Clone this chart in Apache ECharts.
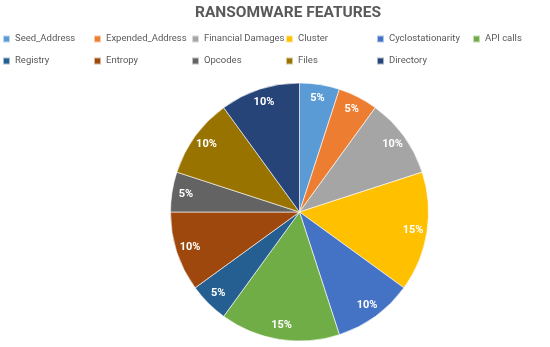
<!DOCTYPE html>
<html><head><meta charset="utf-8">
<script src="https://cdn.jsdelivr.net/npm/echarts@6/dist/echarts.min.js"></script>
<style>html,body{margin:0;padding:0;background:#fff}#c{width:550px;height:347px}</style>
</head><body><div id="c"></div>
<script>
const categories = ['Seed_Address','Expended_Address','Financial Damages','Cluster','Cyclostationarity','API calls','Registry','Entropy','Opcodes','Files','Directory'];
const values = [5,5,10,15,10,15,5,10,5,10,10];
const colors = ['#5B9BD5','#ED7D31','#A5A5A5','#FFC000','#4472C4','#70AD47','#255E91','#9E480E','#636363','#997300','#264478'];
const legendLeft = [2,93,191,285,376,472];
const legendRowTop = [32,54];

const font = 'Roboto';
const legends = categories.map((n,i)=>({
  data:[n],
  left: legendLeft[i%6],
  top: legendRowTop[Math.floor(i/6)],
  icon:'rect', itemWidth:7, itemHeight:7, padding:0,
  textStyle:{fontFamily:font,fontSize:9.5,color:'#595959',lineHeight:14},
  selectedMode:false
}));
const data = categories.map((n,i)=>({name:n,value:values[i],itemStyle:{color:colors[i]}}));
const chart = echarts.init(document.getElementById('c'),null,{renderer:'canvas'});
chart.setOption({
  animation:false,
  title:{text:'RANSOMWARE FEATURES',left:283,textAlign:'center',top:0,
    textStyle:{fontFamily:font,fontSize:15.5,fontWeight:'bold',color:'#595959'}},
  legend:legends,
  series:[
    {type:'pie',center:[299.5,212],radius:[0,129],startAngle:90,clockwise:true,
     data:data,label:{show:false},labelLine:{show:false},
     itemStyle:{borderColor:'rgba(255,255,255,0.6)',borderWidth:1},
     emphasis:{disabled:true}},
    {type:'pie',center:[299.5,212],radius:[95,129],startAngle:90,clockwise:true,
     data:categories.map((n,i)=>({name:n,value:values[i]})),
     itemStyle:{color:'rgba(0,0,0,0)'},silent:true,legendHoverLink:false,
     label:{show:true,position:'inside',formatter:'{c}%',color:'#fff',fontFamily:font,fontSize:11,fontWeight:'bold'},
     labelLine:{show:false},emphasis:{disabled:true}}
  ]
});
</script></body></html>
